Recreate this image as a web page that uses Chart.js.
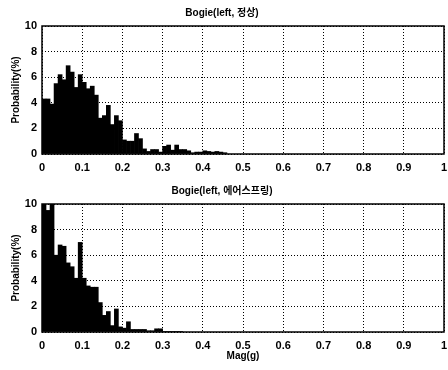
<!DOCTYPE html>
<html lang="ko">
<head>
<meta charset="UTF-8">
<title>Bogie histogram</title>
<script src="https://cdn.jsdelivr.net/npm/chart.js"></script>
<style>
  html, body { margin: 0; padding: 0; background: #fff; }
  .plot { position: absolute; left: 0; width: 448px; height: 185px; }
</style>
</head>
<body>
<div class="plot" style="top:0"><canvas id="topChart" width="448" height="185"></canvas></div>
<div class="plot" style="top:185px"><canvas id="bottomChart" width="448" height="185"></canvas></div>
<script>
// bin centres (0.01 g wide bins)
const binsTop = [0.005, 0.015, 0.025, 0.035, 0.045, 0.055, 0.065, 0.075, 0.085, 0.095,
  0.105, 0.115, 0.125, 0.135, 0.145, 0.155, 0.165, 0.175, 0.185, 0.195,
  0.205, 0.215, 0.225, 0.235, 0.245, 0.255, 0.265, 0.275, 0.285, 0.295,
  0.305, 0.315, 0.325, 0.335, 0.345, 0.355, 0.365, 0.375, 0.385, 0.395,
  0.405, 0.415, 0.425, 0.435, 0.445, 0.455];
const probTop = [4.3, 4.3, 3.9, 5.5, 6.2, 5.8, 6.9, 6.4, 5.2, 6.2,
  5.6, 5.1, 5.3, 4.6, 2.8, 3.0, 3.8, 2.3, 3.0, 2.6,
  1.1, 1.0, 1.0, 1.6, 1.2, 0.4, 0.2, 0.35, 0.35, 0.15,
  0.6, 0.7, 0.3, 0.7, 0.35, 0.35, 0.25, 0.1, 0.15, 0.15,
  0.25, 0.2, 0.15, 0.2, 0.15, 0.1];

const binsBottom = [0.005, 0.015, 0.025, 0.035, 0.045, 0.055, 0.065, 0.075, 0.085, 0.095,
  0.105, 0.115, 0.125, 0.135, 0.145, 0.155, 0.165, 0.175, 0.185, 0.195,
  0.205, 0.215, 0.225, 0.235, 0.245, 0.255, 0.265, 0.275, 0.285, 0.295,
  0.305, 0.315, 0.325, 0.335, 0.345];
const probBottom = [12, 9.5, 12, 6.0, 6.8, 6.7, 5.4, 5.1, 4.2, 7.0,
  4.2, 3.6, 3.5, 3.5, 2.3, 1.3, 1.6, 0.5, 1.8, 0.4,
  0.3, 0.8, 0.2, 0.2, 0.2, 0.2, 0.1, 0.1, 0.25, 0.25,
  0.05, 0.05, 0.05, 0.05, 0.05];

const xTicks = [0, 0.1, 0.2, 0.3, 0.4, 0.5, 0.6, 0.7, 0.8, 0.9, 1];
const yTicks = [0, 2, 4, 6, 8, 10];

const FONT = '"Liberation Sans", Arial, "Noto Sans CJK KR", sans-serif';
Chart.defaults.color = '#000';
Chart.defaults.font.family = FONT;

// solid frame around the plot area, like the matlab axes box
const boxPlugin = {
    id: 'box',
    afterDraw(chart) {
        const a = chart.chartArea;
        const ctx = chart.ctx;
        ctx.save();
        ctx.strokeStyle = '#000';
        ctx.lineWidth = 1.5;
        ctx.strokeRect(a.left, a.top, a.right - a.left, a.bottom - a.top);
        ctx.restore();
    }
};

function makeChart(id, bins, values, title, titlePad, xTitle, xHeight) {
    const ctx = document.getElementById(id).getContext('2d');
    return new Chart(ctx, {
        type: 'bar',
        data: {
            datasets: [{
                data: bins.map((b, i) => ({ x: b, y: values[i] })),
                backgroundColor: '#000',
                borderWidth: 0,
                barPercentage: 1,
                categoryPercentage: 1,
                grouped: false
            }]
        },
        options: {
            responsive: false,
            animation: false,
            layout: { padding: { left: 0, right: 4, top: 0, bottom: 0 } },
            plugins: {
                legend: { display: false },
                tooltip: { enabled: false },
                title: {
                    display: true,
                    text: title,
                    font: { size: 10, weight: 'bold', family: FONT },
                    padding: titlePad
                }
            },
            scales: {
                x: {
                    type: 'linear',
                    min: 0,
                    max: 1,
                    offset: false,
                    afterBuildTicks: s => { s.ticks = xTicks.map(v => ({ value: v })); },
                    afterFit: s => {
                        s.height = xHeight;
                        s.paddingLeft = 0;
                        s.paddingRight = 0;
                    },
                    grid: { color: '#000', lineWidth: 1, drawTicks: false, offset: false },
                    border: { display: false, dash: [1, 2] },
                    ticks: {
                        padding: 7,
                        maxRotation: 0,
                        font: { size: 11, weight: 'bold' },
                        callback: v => String(v)
                    },
                    title: {
                        display: !!xTitle,
                        text: xTitle,
                        font: { size: 10, weight: 'bold' },
                        padding: { top: 0, bottom: 8 }
                    }
                },
                y: {
                    min: 0,
                    max: 10,
                    afterBuildTicks: s => { s.ticks = yTicks.map(v => ({ value: v })); },
                    afterFit: s => {
                        s.width = 42;
                        s.paddingTop = 0;
                        s.paddingBottom = 0;
                    },
                    grid: { color: '#000', lineWidth: 1, drawTicks: false },
                    border: { display: false, dash: [1, 2] },
                    ticks: {
                        padding: 5,
                        font: { size: 11, weight: 'bold' }
                    },
                    title: {
                        display: true,
                        text: 'Probability(%)',
                        font: { size: 10, weight: 'bold' },
                        padding: { top: 10, bottom: 0 }
                    }
                }
            }
        },
        plugins: [boxPlugin]
    });
}

makeChart('topChart', binsTop, probTop, 'Bogie(left, 정상)', { top: 7, bottom: 7 }, '', 31);
makeChart('bottomChart', binsBottom, probBottom, 'Bogie(left, 에어스프링)', { top: 0, bottom: 7 }, 'Mag(g)', 38);
</script>
</body>
</html>
